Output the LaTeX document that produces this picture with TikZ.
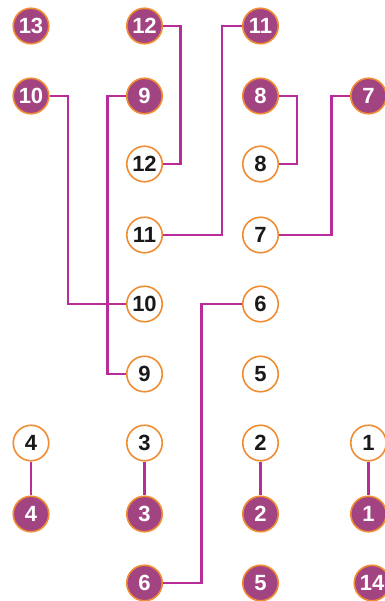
\documentclass[tikz,border=0pt]{standalone}
\usepackage{fontspec}
\setmainfont{Liberation Sans}
\definecolor{dotfill}{RGB}{163,68,130}
\definecolor{ring}{RGB}{240,140,50}
\definecolor{wire}{RGB}{185,45,155}
\begin{document}
\begin{tikzpicture}[x=1pt,y=-1pt,
  base/.style={circle,minimum size=35.5pt,inner sep=0pt,line width=1.6pt,draw=ring,font=\fontsize{22}{22}\selectfont\bfseries},
  full/.style={base,fill=dotfill,text=white},
  hollow/.style={base,fill=white,text=black!90},
  link/.style={draw=wire,line width=2.2pt}]
\useasboundingbox (0,0) rectangle (384,601);
% filled nodes
\node[full] (f13) at (31,26) {13};
\node[full] (f12) at (144.5,26) {12};
\node[full] (f11) at (260.5,26) {11};
\node[full] (f10) at (31,96) {10};
\node[full] (f9) at (144.5,96) {9};
\node[full] (f8) at (260.5,96) {8};
\node[full] (f7) at (368.5,96) {7};
\node[full] (f4) at (31,514) {4};
\node[full] (f3) at (144.5,514) {3};
\node[full] (f2) at (260.5,514) {2};
\node[full] (f1) at (368.5,514) {1};
\node[full] (f6) at (144.5,583) {6};
\node[full] (f5) at (260.5,583) {5};
\node[full] (f14) at (372,583) {14};
% hollow nodes
\node[hollow] (o12) at (144.5,164) {12};
\node[hollow] (o8) at (260.5,164) {8};
\node[hollow] (o11) at (144.5,235) {11};
\node[hollow] (o7) at (260.5,235) {7};
\node[hollow] (o10) at (144.5,304) {10};
\node[hollow] (o6) at (260.5,304) {6};
\node[hollow] (o9) at (144.5,374) {9};
\node[hollow] (o5) at (260.5,374) {5};
\node[hollow] (o4) at (31,443) {4};
\node[hollow] (o3) at (144.5,443) {3};
\node[hollow] (o2) at (260.5,443) {2};
\node[hollow] (o1) at (368.5,443) {1};
% connectors
\draw[link] (f12.east) -- ++(17.5,0) |- (o12.east);
\draw[link] (f11.west) -- ++(-20,0) |- (o11.east);
\draw[link] (f10.east) -- ++(18.5,0) |- (o10.west);
\draw[link] (f9.west) -- ++(-18.5,0) |- (o9.west);
\draw[link] (f8.east) -- ++(18,0) |- (o8.east);
\draw[link] (f7.west) -- ++(-18.5,0) |- (o7.east);
\draw[link] (o6.west) -- ++(-40.5,0) |- (f6.east);
\draw[link] (o4) -- (f4);
\draw[link] (o3) -- (f3);
\draw[link] (o2) -- (f2);
\draw[link] (o1) -- (f1);
\end{tikzpicture}
\end{document}
